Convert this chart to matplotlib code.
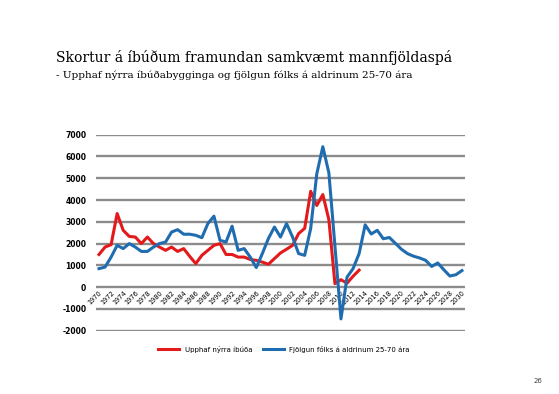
import matplotlib
matplotlib.use("Agg")
import matplotlib.pyplot as plt

# years 1970-2030
years = list(range(1970, 2031))

# Upphaf nýrra íbúða (1970-2013)
upphaf = [1500, 1840, 1950, 3380, 2610, 2330, 2300, 2000, 2300, 2000,
          1840, 1690, 1840, 1640, 1770, 1410, 1080, 1460, 1690, 1920,
          2000, 1500, 1500, 1380, 1380, 1270, 1230, 1150, 1050, 1310,
          1570, 1740, 1920, 2460, 2700, 4400, 3750, 4250, 3100, 160,
          340, 180, 500, 780]

# Fjölgun fólks á aldrinum 25-70 ára (1970-2030)
fjolgun = [850, 920, 1380, 1920, 1770, 2000, 1840, 1640, 1640, 1840,
           2000, 2070, 2530, 2640, 2430, 2430, 2380, 2270, 2920, 3260,
           2150, 2070, 2800, 1690, 1770, 1380, 900, 1540, 2230, 2760,
           2300, 2920, 2300, 1540, 1460, 2700, 5200, 6450, 5250, 1900,
           -1460, 460, 850, 1540, 2860, 2440, 2610, 2220, 2280, 2010,
           1740, 1540, 1420, 1340, 1230, 950, 1110, 800, 510, 570, 760]

ytick_vals = list(range(-2000, 7001, 1000))
xtick_years = list(range(1970, 2031, 2))

fig = plt.figure(figsize=(5.59, 3.94), dpi=100)
ax = fig.add_axes([0.1717, 0.1607, 0.6601, 0.4974])

ax.plot(years[:len(upphaf)], upphaf, color="#e31a1c", lw=2.2,
        label="Upphaf nýrra íbúða", zorder=3)
ax.plot(years, fjolgun, color="#1f6db0", lw=2.2,
        label="Fjölgun fólks á aldrinum 25-70 ára", zorder=3)

ax.set_xlim(1969.5, 2030.5)
ax.set_ylim(-2000, 7000)
ax.set_yticks(ytick_vals)
ax.set_yticklabels([str(v) for v in ytick_vals], fontsize=5.5, fontweight="bold")
ax.yaxis.grid(True, color="#8c8c8c", lw=1.7)
ax.set_axisbelow(True)

# category labels sit on the zero line
ax.spines["bottom"].set_position(("data", 0))
for s in ax.spines.values():
    s.set_color("none")
ax.set_xticks(xtick_years)
ax.set_xticklabels([str(y) for y in xtick_years], fontsize=4.8,
                   rotation=45, ha="right", va="top", rotation_mode="anchor")
ax.tick_params(axis="both", length=0)
ax.tick_params(axis="y", pad=7)
ax.tick_params(axis="x", pad=2)

fig.text(0.1, 0.855, "Skortur á íbúðum framundan samkvæmt mannfjöldaspá",
         fontsize=10, family="DejaVu Serif", va="center")
fig.text(0.1, 0.81, "- Upphaf nýrra íbúðabygginga og fjölgun fólks á aldrinum 25-70 ára",
         fontsize=7.5, family="DejaVu Serif", va="center")

fig.legend(loc="center", bbox_to_anchor=(0.508, 0.114), ncol=2, frameon=False,
           fontsize=5, handlelength=3, columnspacing=1.5)

fig.text(0.962, 0.028, "26", fontsize=5, ha="center", color="#404040")

fig.savefig("out.png", dpi=100)
